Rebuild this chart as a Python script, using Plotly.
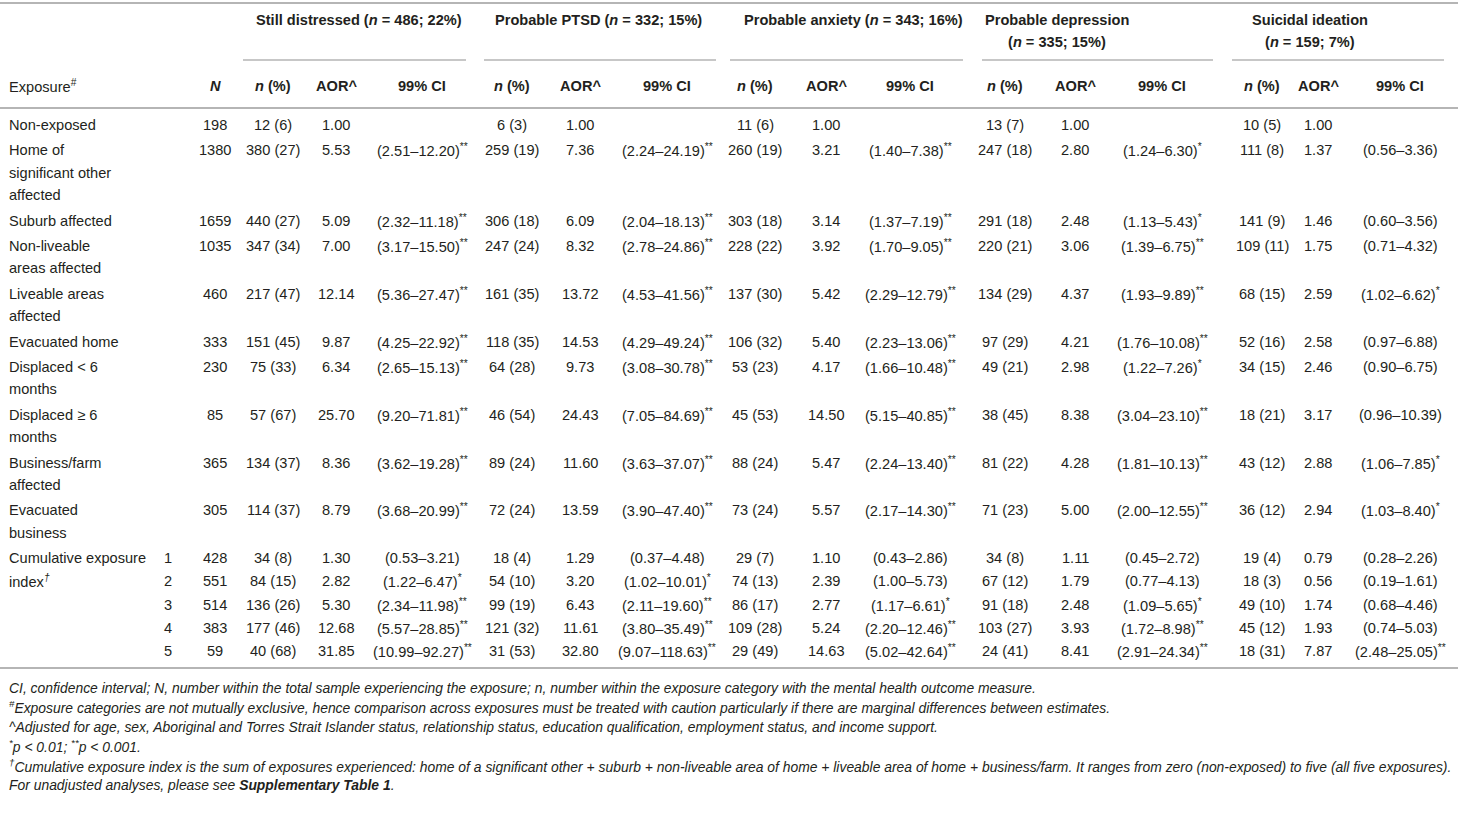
import plotly.graph_objects as go

# Wiersze tabeli (ekspozycje)
exposures = ["Non-exposed", "Home of<br>significant other<br>affected", "Suburb affected",
             "Non-liveable<br>areas affected", "Liveable areas<br>affected", "Evacuated home",
             "Displaced < 6<br>months", "Displaced ≥ 6<br>months", "Business/farm<br>affected",
             "Evacuated<br>business", "Cumulative exposure<br>index<sup><i>†</i></sup>", "", "", "", ""]
index_level = ["", "", "", "", "", "", "", "", "", "", "1", "2", "3", "4", "5"]
N_total = [198, 1380, 1659, 1035, 460, 333, 230, 85, 365, 305, 428, 551, 514, 383, 59]

# Naglowki wynikow
outcome_names = ["Still distressed", "Probable PTSD", "Probable anxiety", "Probable depression", "Suicidal ideation"]
outcome_n = [486, 332, 343, 335, 159]
outcome_pct = [22, 15, 16, 15, 7]

# Still distressed
still_n = [12, 380, 440, 347, 217, 151, 75, 57, 134, 114, 34, 84, 136, 177, 40]
still_pct = [6, 27, 27, 34, 47, 45, 33, 67, 37, 37, 8, 15, 26, 46, 68]
still_aor = [1.00, 5.53, 5.09, 7.00, 12.14, 9.87, 6.34, 25.70, 8.36, 8.79, 1.30, 2.82, 5.30, 12.68, 31.85]
still_lo = [None, 2.51, 2.32, 3.17, 5.36, 4.25, 2.65, 9.20, 3.62, 3.68, 0.53, 1.22, 2.34, 5.57, 10.99]
still_hi = [None, 12.20, 11.18, 15.50, 27.47, 22.92, 15.13, 71.81, 19.28, 20.99, 3.21, 6.47, 11.98, 28.85, 92.27]
still_sig = ["", "**", "**", "**", "**", "**", "**", "**", "**", "**", "", "*", "**", "**", "**"]

# Probable PTSD
ptsd_n = [6, 259, 306, 247, 161, 118, 64, 46, 89, 72, 18, 54, 99, 121, 31]
ptsd_pct = [3, 19, 18, 24, 35, 35, 28, 54, 24, 24, 4, 10, 19, 32, 53]
ptsd_aor = [1.00, 7.36, 6.09, 8.32, 13.72, 14.53, 9.73, 24.43, 11.60, 13.59, 1.29, 3.20, 6.43, 11.61, 32.80]
ptsd_lo = [None, 2.24, 2.04, 2.78, 4.53, 4.29, 3.08, 7.05, 3.63, 3.90, 0.37, 1.02, 2.11, 3.80, 9.07]
ptsd_hi = [None, 24.19, 18.13, 24.86, 41.56, 49.24, 30.78, 84.69, 37.07, 47.40, 4.48, 10.01, 19.60, 35.49, 118.63]
ptsd_sig = ["", "**", "**", "**", "**", "**", "**", "**", "**", "**", "", "*", "**", "**", "**"]

# Probable anxiety
anx_n = [11, 260, 303, 228, 137, 106, 53, 45, 88, 73, 29, 74, 86, 109, 29]
anx_pct = [6, 19, 18, 22, 30, 32, 23, 53, 24, 24, 7, 13, 17, 28, 49]
anx_aor = [1.00, 3.21, 3.14, 3.92, 5.42, 5.40, 4.17, 14.50, 5.47, 5.57, 1.10, 2.39, 2.77, 5.24, 14.63]
anx_lo = [None, 1.40, 1.37, 1.70, 2.29, 2.23, 1.66, 5.15, 2.24, 2.17, 0.43, 1.00, 1.17, 2.20, 5.02]
anx_hi = [None, 7.38, 7.19, 9.05, 12.79, 13.06, 10.48, 40.85, 13.40, 14.30, 2.86, 5.73, 6.61, 12.46, 42.64]
anx_sig = ["", "**", "**", "**", "**", "**", "**", "**", "**", "**", "", "", "*", "**", "**"]

# Probable depression
dep_n = [13, 247, 291, 220, 134, 97, 49, 38, 81, 71, 34, 67, 91, 103, 24]
dep_pct = [7, 18, 18, 21, 29, 29, 21, 45, 22, 23, 8, 12, 18, 27, 41]
dep_aor = [1.00, 2.80, 2.48, 3.06, 4.37, 4.21, 2.98, 8.38, 4.28, 5.00, 1.11, 1.79, 2.48, 3.93, 8.41]
dep_lo = [None, 1.24, 1.13, 1.39, 1.93, 1.76, 1.22, 3.04, 1.81, 2.00, 0.45, 0.77, 1.09, 1.72, 2.91]
dep_hi = [None, 6.30, 5.43, 6.75, 9.89, 10.08, 7.26, 23.10, 10.13, 12.55, 2.72, 4.13, 5.65, 8.98, 24.34]
dep_sig = ["", "*", "*", "**", "**", "**", "*", "**", "**", "**", "", "", "*", "**", "**"]

# Suicidal ideation
sui_n = [10, 111, 141, 109, 68, 52, 34, 18, 43, 36, 19, 18, 49, 45, 18]
sui_pct = [5, 8, 9, 11, 15, 16, 15, 21, 12, 12, 4, 3, 10, 12, 31]
sui_aor = [1.00, 1.37, 1.46, 1.75, 2.59, 2.58, 2.46, 3.17, 2.88, 2.94, 0.79, 0.56, 1.74, 1.93, 7.87]
sui_lo = [None, 0.56, 0.60, 0.71, 1.02, 0.97, 0.90, 0.96, 1.06, 1.03, 0.28, 0.19, 0.68, 0.74, 2.48]
sui_hi = [None, 3.36, 3.56, 4.32, 6.62, 6.88, 6.75, 10.39, 7.85, 8.40, 2.26, 1.61, 4.46, 5.03, 25.05]
sui_sig = ["", "", "", "", "*", "", "", "", "*", "*", "", "", "", "", "**"]

footnotes = [
    "CI, confidence interval; N, number within the total sample experiencing the exposure; n, number within the exposure category with the mental health outcome measure.",
    "<sup>#</sup>Exposure categories are not mutually exclusive, hence comparison across exposures must be treated with caution particularly if there are marginal differences between estimates.",
    "^Adjusted for age, sex, Aboriginal and Torres Strait Islander status, relationship status, education qualification, employment status, and income support.",
    "<sup>*</sup>p < 0.01; <sup>**</sup>p < 0.001.",
    "<sup>†</sup>Cumulative exposure index is the sum of exposures experienced: home of a significant other + suburb + non-liveable area of home + liveable area of home + business/farm. It ranges from zero (non-exposed) to five (all five exposures).",
    "For unadjusted analyses, please see <b>Supplementary Table 1</b>.",
]

outcomes = [
    (still_n, still_pct, still_aor, still_lo, still_hi, still_sig),
    (ptsd_n, ptsd_pct, ptsd_aor, ptsd_lo, ptsd_hi, ptsd_sig),
    (anx_n, anx_pct, anx_aor, anx_lo, anx_hi, anx_sig),
    (dep_n, dep_pct, dep_aor, dep_lo, dep_hi, dep_sig),
    (sui_n, sui_pct, sui_aor, sui_lo, sui_hi, sui_sig),
]

# Uklad (piksele)
FONT = "Liberation Sans"
TXT = "#231f20"
RULE = "#b5b5b5"
W, H = 1458, 813
FS = 14.6
col_label = 8
col_idx = 168
col_N = 215
col_groups = [(273, 336, 422), (512, 580, 667), (755, 826, 910), (1005, 1075, 1162), (1262, 1318, 1400)]
title_x = [359, 598, 853, 1057, 1310]
title_wrap = [False, False, False, True, True]
underline = [(243, 466), (484, 716), (730, 963), (982, 1213), (1232, 1444)]
line_h = 22.4
row_gap = 3
cum_pitch = 23.25
y_first = 125

fig = go.Figure()


def put(x, y, text, anchor="center", size=FS, color=TXT):
    fig.add_annotation(x=x, y=y, xref="x", yref="y", text=text, showarrow=False,
                       xanchor=anchor, yanchor="middle", borderpad=0,
                       font=dict(family=FONT, size=size, color=color))


def rule(x0, x1, y, width=2):
    fig.add_shape(type="line", xref="x", yref="y", x0=x0, x1=x1, y0=y, y1=y,
                  line=dict(color=RULE, width=width))


# Linie poziome
rule(0, W, 3)
rule(0, W, 108)
rule(0, W, 668)
for x0, x1 in underline:
    rule(x0, x1, 60, 1.5)

# Naglowki grup
for i, name in enumerate(outcome_names):
    stat = f"(<i>n</i> = {outcome_n[i]}; {outcome_pct[i]}%)"
    if title_wrap[i]:
        put(title_x[i], 20, f"<b>{name}</b>")
        put(title_x[i], 42, f"<b>{stat}</b>")
    else:
        put(title_x[i], 20, f"<b>{name} {stat}</b>")

# Naglowki kolumn
put(col_label, 86, "Exposure<sup>#</sup>", anchor="left")
put(col_N, 86, "<b><i>N</i></b>")
for xn, xa, xc in col_groups:
    put(xn, 86, "<b><i>n</i> (%)</b>")
    put(xa, 86, "<b>AOR^</b>")
    put(xc, 86, "<b>99% CI</b>")

# Wiersze
y = y_first
for r in range(len(exposures)):
    lines = exposures[r].split("<br>") if exposures[r] else []
    for k, ln in enumerate(lines):
        put(col_label, y + k * line_h, ln, anchor="left")
    if index_level[r]:
        put(col_idx, y, index_level[r])
    put(col_N, y, str(N_total[r]))
    for (xn, xa, xc), (n, p, a, lo, hi, sg) in zip(col_groups, outcomes):
        put(xn, y, f"{n[r]} ({p[r]})")
        put(xa, y, f"{a[r]:.2f}")
        if lo[r] is not None:
            ci = f"({lo[r]:.2f}–{hi[r]:.2f})"
            if sg[r]:
                ci += f"<sup>{sg[r]}</sup>"
            put(xc, y, ci)
    if index_level[r]:
        y += cum_pitch
    else:
        y += max(len(lines), 1) * line_h + row_gap

# Przypisy
for i, fn in enumerate(footnotes):
    put(col_label, 688 + i * 19.4, f"<i>{fn}</i>", anchor="left", size=13.9)

fig.update_layout(
    width=W, height=H, margin=dict(l=0, r=0, t=0, b=0),
    paper_bgcolor="white", plot_bgcolor="white", showlegend=False,
    xaxis=dict(range=[0, W], visible=False, fixedrange=True),
    yaxis=dict(range=[H, 0], visible=False, fixedrange=True),
)
fig.write_html("out.html", config={"displayModeBar": False},
               post_script="document.body.style.margin='0px';")
